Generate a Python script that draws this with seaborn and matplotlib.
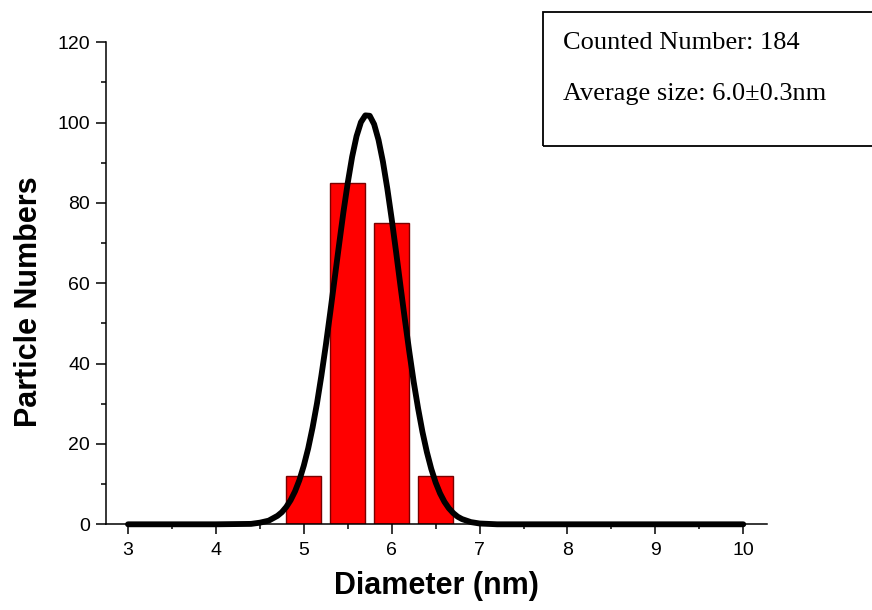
import numpy as np
import pandas as pd
import matplotlib
matplotlib.use("Agg")
import matplotlib.pyplot as plt
from matplotlib.patches import Rectangle
from matplotlib.ticker import MultipleLocator
import seaborn as sns

# Histogram data
diameters = [5.0, 5.5, 6.0, 6.5]
counts = [12, 85, 75, 12]

# Fitted curve
curve_x = [3.0, 4.0, 4.4, 4.5, 4.6, 4.7, 4.75, 4.8, 4.85, 4.9, 4.95, 5.0, 5.05, 5.1,
           5.15, 5.2, 5.25, 5.3, 5.35, 5.4, 5.45, 5.5, 5.55, 5.6, 5.65, 5.7, 5.75,
           5.8, 5.85, 5.9, 5.95, 6.0, 6.05, 6.1, 6.15, 6.2, 6.25, 6.3, 6.35, 6.4,
           6.45, 6.5, 6.55, 6.6, 6.65, 6.7, 6.75, 6.8, 6.9, 7.0, 7.2, 8.0, 10.0]
curve_y = [0.0, 0.0, 0.1, 0.4, 0.9, 2.1, 3.0, 4.3, 6.0, 8.2, 11.0, 14.6, 18.9, 24.1,
           30.1, 37.0, 44.5, 52.6, 61.0, 69.4, 77.6, 85.0, 91.5, 96.6, 100.1, 101.8, 101.7,
           99.6, 95.7, 90.3, 83.6, 76.0, 67.8, 59.3, 51.0, 43.0, 35.5, 28.9, 23.0, 18.0,
           13.8, 10.4, 7.7, 5.6, 4.0, 2.8, 1.9, 1.3, 0.55, 0.2, 0.0, 0.0, 0.0]

x_ticks = [3, 4, 5, 6, 7, 8, 9, 10]
y_ticks = [0, 20, 40, 60, 80, 100, 120]
info_lines = ["Counted Number: 184", "Average size: 6.0\u00b10.3nm"]

sns.set_theme(style="ticks")
plt.rcParams['font.family'] = ['Liberation Sans', 'DejaVu Sans']

fig = plt.figure(figsize=(8.72, 6.10), dpi=100)
ax = fig.add_axes([0.1216, 0.1405, 0.758, 0.7902])

bars = pd.DataFrame({"d": diameters, "n": counts})
sns.barplot(data=bars, x="d", y="n", native_scale=True, width=0.8,
            color="#ff0000", saturation=1, edgecolor="#7a0000", linewidth=1.0, ax=ax)

line = pd.DataFrame({"x": curve_x, "y": curve_y})
sns.lineplot(data=line, x="x", y="y", color="black", linewidth=4.2, ax=ax,
             clip_on=False, zorder=5)

ax.set_xlim(2.75, 10.27)
ax.set_ylim(0, 120)
ax.set_xticks(x_ticks)
ax.set_xticklabels([str(v) for v in x_ticks])
ax.set_yticks(y_ticks)
ax.set_yticklabels([str(v) for v in y_ticks])
ax.xaxis.set_minor_locator(MultipleLocator(0.5))
ax.yaxis.set_minor_locator(MultipleLocator(10))
ax.tick_params(which="major", direction="out", length=7.5, width=1.1, labelsize=14,
               color="black", labelcolor="black")
ax.tick_params(axis="x", which="major", pad=5)
ax.tick_params(axis="y", which="major", pad=4)
ax.tick_params(which="minor", direction="out", length=3.5, width=1.1, color="black")

for s in ["top", "right"]:
    ax.spines[s].set_visible(False)
for s in ["left", "bottom"]:
    ax.spines[s].set_linewidth(1.1)
    ax.spines[s].set_color("black")

ax.set_xlabel("Diameter (nm)", fontsize=22, fontweight="bold", color="black", labelpad=9)
ax.set_ylabel("Particle Numbers", fontsize=22, fontweight="bold", color="black")
ax.yaxis.set_label_coords(-0.094, 0.462)

# info box
rect = Rectangle((543/872, 1-146/610), 0.45, 134/610, transform=fig.transFigure,
                 fill=False, edgecolor="black", linewidth=1.3, clip_on=False)
fig.patches.append(rect)
fig.text(563/872, 1-49/610, info_lines[0], family=["Liberation Serif", "DejaVu Serif"],
         fontsize=19, va="baseline", ha="left", color="black")
fig.text(563/872, 1-100/610, info_lines[1], family=["Liberation Serif", "DejaVu Serif"],
         fontsize=19, va="baseline", ha="left", color="black")

fig.savefig("out.png", dpi=100)
